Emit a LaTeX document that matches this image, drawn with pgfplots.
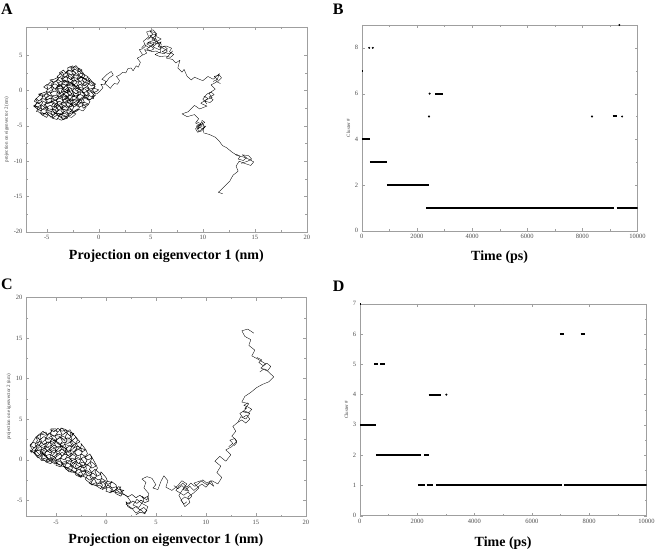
\documentclass[border=0pt]{standalone}
\usepackage{fontspec}
\setmainfont{Liberation Serif}
\usepackage{pgfplots}
\pgfplotsset{compat=1.18}

\pgfplotsset{
  panel/.style={
    scale only axis,
    axis line style={gray!75},
    tick style={gray!75},
    tick align=inside,
    major tick length=3pt, minor tick length=1.6pt,
    minor tick num=1,
    tick label style={font=\fontsize{6.5}{7}\selectfont, text=black!70},
    /pgf/number format/assume math mode=true,
    /pgf/number format/1000 sep={},
    scaled ticks=false,
    xlabel style={font=\fontsize{14}{16}\selectfont\bfseries, yshift=-3pt},
    ylabel style={font=\fontsize{5}{6}\selectfont, text=black!75, yshift=-2pt},
  },
  traj/.style={black, line width=0.35pt, line join=round},
  dense/.style={black, line width=0.45pt, line join=round},
  clus/.style={black, line width=2pt},
  dot/.style={black, only marks, mark=*, mark size=0.8pt},
}

\begin{document}
\begin{tikzpicture}
\path (0pt,0pt) rectangle (658pt,-552pt);

% panel labels
\node[anchor=north west, inner sep=0pt, font=\fontsize{16}{16}\selectfont\bfseries] at (1pt,-4pt) {A};
\node[anchor=north west, inner sep=0pt, font=\fontsize{16}{16}\selectfont\bfseries] at (333pt,-4pt) {B};
\node[anchor=north west, inner sep=0pt, font=\fontsize{16}{16}\selectfont\bfseries] at (1pt,-279pt) {C};
\node[anchor=north west, inner sep=0pt, font=\fontsize{16}{16}\selectfont\bfseries] at (333pt,-281pt) {D};

% ---------- A ----------
\begin{axis}[panel, at={(26pt,-232pt)}, anchor=south west,
  width=281pt, height=205pt,
  xmin=-7, xmax=20, ymin=-20, ymax=9,
  xtick={-5,0,...,20}, ytick={-20,-15,...,5},
  xlabel={Projection on eigenvector 1 (nm)},
  ylabel={projection on eigenvector 2 (nm)},
]
% dense part of the walk, around (-3,0): sweeps across
\addplot[dense] coordinates {
(-2.8,3.4) (-2.5,3.15) (-2.2,3.55) (-2.0,3.2)
(-1.6,2.9) (-1.9,2.65) (-2.3,3.05) (-2.6,2.7) (-2.9,2.85) (-3.2,2.55) (-3.4,2.9)
(-3.8,2.5) (-3.5,2.15) (-3.1,2.55) (-2.8,2.2) (-2.4,2.35) (-2.1,2.05) (-1.7,2.5) (-1.3,2.2)
(-1.0,1.9) (-1.3,1.65) (-1.7,2.05) (-2.0,1.7) (-2.4,1.85) (-2.7,1.55) (-3.1,2.0) (-3.5,1.7) (-3.9,1.9) (-4.3,1.6)
(-4.7,1.5) (-4.3,1.15) (-3.9,1.55) (-3.6,1.2) (-3.2,1.35) (-2.8,1.05) (-2.4,1.5) (-2.0,1.2) (-1.6,1.4) (-1.2,1.05) (-0.9,1.45) (-0.6,1.2)
(-0.3,0.9) (-0.7,0.65) (-1.0,1.05) (-1.4,0.7) (-1.8,0.85) (-2.2,0.55) (-2.6,1.0) (-3.0,0.7) (-3.4,0.9) (-3.8,0.55) (-4.2,0.95) (-4.6,0.7) (-5.0,0.85)
(-5.3,0.5) (-4.9,0.15) (-4.5,0.55) (-4.1,0.2) (-3.7,0.35) (-3.3,0.05) (-2.9,0.5) (-2.5,0.2) (-2.1,0.4) (-1.7,0.05) (-1.3,0.45) (-0.9,0.2) (-0.5,0.35) (0.0,0.1)
(-0.2,-0.1) (-0.6,-0.35) (-1.0,0.05) (-1.4,-0.3) (-1.8,-0.15) (-2.2,-0.45) (-2.6,0.0) (-3.0,-0.3) (-3.4,-0.1) (-3.8,-0.45) (-4.2,-0.05) (-4.6,-0.3) (-5.0,-0.15) (-5.5,-0.4)
(-5.8,-0.5) (-5.4,-0.85) (-5.0,-0.45) (-4.6,-0.8) (-4.2,-0.65) (-3.8,-0.95) (-3.4,-0.5) (-3.0,-0.8) (-2.6,-0.6) (-2.2,-0.95) (-1.8,-0.55) (-1.4,-0.8) (-1.0,-0.65) (-0.6,-0.95) (-0.3,-0.6)
(-0.6,-1.1) (-1.0,-1.35) (-1.4,-0.95) (-1.8,-1.3) (-2.2,-1.15) (-2.6,-1.45) (-3.0,-1.0) (-3.4,-1.3) (-3.8,-1.1) (-4.2,-1.45) (-4.6,-1.05) (-5.0,-1.3) (-5.4,-1.15) (-5.8,-1.45) (-6.0,-1.1)
(-6.2,-1.5) (-5.8,-1.85) (-5.4,-1.45) (-5.0,-1.8) (-4.6,-1.65) (-4.2,-1.95) (-3.8,-1.5) (-3.4,-1.8) (-3.0,-1.6) (-2.6,-1.95) (-2.2,-1.55) (-1.8,-1.8) (-1.4,-1.65) (-1.0,-1.9)
(-1.5,-2.1) (-1.9,-2.35) (-2.3,-1.95) (-2.7,-2.3) (-3.1,-2.15) (-3.5,-2.45) (-3.9,-2.0) (-4.3,-2.3) (-4.7,-2.1) (-5.1,-2.45) (-5.5,-2.05) (-5.9,-2.3) (-6.3,-2.15)
(-6.0,-2.5) (-5.6,-2.85) (-5.2,-2.45) (-4.8,-2.8) (-4.4,-2.65) (-4.0,-2.95) (-3.6,-2.5) (-3.2,-2.8) (-2.8,-2.6) (-2.4,-2.95) (-2.0,-2.6)
(-2.5,-3.1) (-2.9,-3.35) (-3.3,-2.95) (-3.7,-3.3) (-4.1,-3.15) (-4.5,-3.45) (-4.9,-3.0) (-5.3,-3.3) (-5.5,-3.1)
(-4.8,-3.5) (-4.4,-3.85) (-4.0,-3.45) (-3.6,-3.8) (-3.2,-3.65) (-3.0,-3.9)
(-3.2,-4.0) (-3.6,-4.2) (-4.0,-3.9)
};
% dense part, up and down
\addplot[dense] coordinates {
(-6.0,-3.0) (-5.85,-2.55) (-6.1,-2.1) (-5.9,-1.65) (-6.05,-1.2)
(-5.5,-0.4) (-5.35,-0.85) (-5.6,-1.3) (-5.4,-1.75) (-5.65,-2.2) (-5.45,-2.65) (-5.6,-3.1) (-5.4,-3.5)
(-5.0,-3.8) (-4.85,-3.35) (-5.1,-2.9) (-4.9,-2.45) (-5.15,-2.0) (-4.95,-1.55) (-5.1,-1.1) (-4.85,-0.65) (-5.05,-0.2) (-4.9,0.25) (-5.0,0.7)
(-4.5,1.4) (-4.35,0.95) (-4.6,0.5) (-4.4,0.05) (-4.65,-0.4) (-4.45,-0.85) (-4.6,-1.3) (-4.35,-1.75) (-4.55,-2.2) (-4.4,-2.65) (-4.6,-3.1) (-4.45,-3.55) (-4.5,-3.9)
(-4.0,-4.1) (-3.85,-3.65) (-4.1,-3.2) (-3.9,-2.75) (-4.15,-2.3) (-3.95,-1.85) (-4.1,-1.4) (-3.85,-0.95) (-4.05,-0.5) (-3.9,-0.05) (-4.1,0.4) (-3.85,0.85) (-4.05,1.3) (-3.9,1.75) (-4.0,2.0)
(-3.5,2.6) (-3.35,2.15) (-3.6,1.7) (-3.4,1.25) (-3.65,0.8) (-3.45,0.35) (-3.6,-0.1) (-3.35,-0.55) (-3.55,-1.0) (-3.4,-1.45) (-3.6,-1.9) (-3.45,-2.35) (-3.65,-2.8) (-3.4,-3.25) (-3.6,-3.7) (-3.5,-4.1)
(-3.0,-3.8) (-2.85,-3.35) (-3.1,-2.9) (-2.9,-2.45) (-3.15,-2.0) (-2.95,-1.55) (-3.1,-1.1) (-2.85,-0.65) (-3.05,-0.2) (-2.9,0.25) (-3.1,0.7) (-2.85,1.15) (-3.05,1.6) (-2.9,2.05) (-3.1,2.5) (-2.95,2.95) (-3.0,3.2)
(-2.5,3.5) (-2.35,3.05) (-2.6,2.6) (-2.4,2.15) (-2.65,1.7) (-2.45,1.25) (-2.6,0.8) (-2.35,0.35) (-2.55,-0.1) (-2.4,-0.55) (-2.6,-1.0) (-2.45,-1.45) (-2.65,-1.9) (-2.4,-2.35) (-2.6,-2.8) (-2.5,-3.2)
(-2.0,-2.8) (-1.85,-2.35) (-2.1,-1.9) (-1.9,-1.45) (-2.15,-1.0) (-1.95,-0.55) (-2.1,-0.1) (-1.85,0.35) (-2.05,0.8) (-1.9,1.25) (-2.1,1.7) (-1.85,2.15) (-2.05,2.6) (-1.95,3.0) (-2.0,3.2)
(-1.5,2.5) (-1.35,2.05) (-1.6,1.6) (-1.4,1.15) (-1.65,0.7) (-1.45,0.25) (-1.6,-0.2) (-1.35,-0.65) (-1.55,-1.1) (-1.4,-1.55) (-1.6,-2.0) (-1.5,-2.5)
(-1.0,-2.0) (-0.85,-1.55) (-1.1,-1.1) (-0.9,-0.65) (-1.15,-0.2) (-0.95,0.25) (-1.1,0.7) (-0.85,1.15) (-1.0,1.6) (-0.95,1.8)
(-0.5,1.0) (-0.35,0.55) (-0.6,0.1) (-0.4,-0.35) (-0.6,-0.8) (-0.5,-1.2)
};
% smaller clumps along the way
\addplot[traj] coordinates {
(4.2,5.0) (4.6,5.3) (4.4,5.8) (4.9,5.6) (5.3,5.9) (5.0,6.3) (4.6,6.6) (5.1,6.9) (5.6,6.6) (6.0,6.9)
(5.7,6.2) (6.2,6.0) (6.6,5.6) (6.3,5.2) (5.8,5.4) (5.4,5.1) (5.9,4.8) (6.4,4.9) (6.9,4.7) (7.2,5.1)
(6.8,5.5) (7.0,6.0) (6.5,6.3) (5.9,6.2) (5.5,7.3) (5.0,7.6) (4.7,7.2) (5.2,8.0) (4.9,8.4) (5.4,8.2)
(5.6,7.6) (6.0,7.3) (5.4,6.8) (4.8,6.1) (4.4,6.5) (4.1,6.0)
};
\addplot[traj] coordinates {
(10.1,-0.8) (10.5,-1.1) (10.2,-1.5) (10.7,-1.7) (11.0,-1.3) (10.6,-0.9) (11.1,-0.6) (10.8,-0.2) (10.4,-0.5) (10.0,-1.2) (10.4,-1.9)
};
\addplot[traj] coordinates {
(9.4,-4.4) (9.8,-4.7) (9.5,-5.1) (10.0,-5.4) (10.3,-5.0) (9.9,-5.7) (9.5,-5.9) (9.3,-5.4) (9.7,-4.9) (10.2,-4.5) (9.9,-4.2)
};
\addplot[traj] coordinates {
(13.2,-9.0) (13.6,-9.3) (13.4,-9.7) (13.9,-9.9) (14.2,-9.5) (13.8,-9.1) (14.4,-9.2) (14.7,-9.7) (14.3,-10.0) (13.7,-10.3)
};
\addplot[traj] coordinates {
(11.0,1.3) (11.4,1.6) (11.1,2.0) (11.6,2.2) (11.8,1.8) (11.4,1.2) (11.7,1.0)
};
% the walk itself
\addplot[traj] coordinates {
(-3.0,0.2) (-2.6,-0.5) (-3.3,-1.1) (-2.9,-1.8) (-2.3,-2.3) (-1.8,-1.2) (-1.3,-0.6) (-1.8,0.2)
(-2.4,0.8) (-3.0,1.4) (-3.6,0.9) (-4.0,0.4) (-3.6,-0.6) (-4.1,-1.3) (-4.7,-1.6) (-5.3,-2.0)
(-4.8,-2.6) (-4.2,-2.7) (-3.6,-1.9) (-3.0,-2.5) (-2.5,-2.0) (-2.9,-1.3) (-2.3,-0.7) (-2.8,-0.2)
(-3.5,0.4) (-3.9,1.1) (-3.3,1.5) (-2.7,1.1) (-2.2,0.4) (-1.5,-0.2) (-1.1,-0.9) (-1.9,-1.5)
(-2.6,-1.2) (-3.4,-1.7) (-4.0,-2.0) (-3.5,-2.6) (-2.8,-2.9) (-2.2,-3.3) (-2.6,-3.8) (-3.2,-3.6)
(-4.5,-3.0) (-5.5,-2.6)
(-6.2,-2.1) (-5.8,-1.6) (-5.5,-2.3) (-5.9,-2.9) (-5.4,-3.5) (-5.0,-3.1) (-4.6,-3.8) (-4.2,-3.3)
(-4.5,-2.6) (-4.0,-2.2) (-4.4,-1.5) (-4.9,-1.9) (-5.2,-1.2) (-4.7,-0.7) (-4.1,-1.0) (-3.7,-0.4)
(-4.2,0.2) (-3.8,0.8) (-3.3,0.4) (-3.0,1.1) (-3.5,1.6) (-3.0,2.2) (-2.5,1.7) (-2.2,2.5)
(-2.7,3.1) (-2.3,3.4) (-1.9,2.8) (-1.5,2.2) (-2.0,1.6) (-1.6,1.0) (-2.2,0.6) (-2.6,1.2)
(-3.1,0.6) (-2.8,0.0) (-3.4,-0.5) (-2.9,-1.0) (-3.5,-1.4) (-3.1,-2.0) (-3.7,-2.4) (-3.3,-3.0)
(-3.8,-3.6) (-3.4,-4.1) (-3.0,-3.5) (-2.6,-2.8) (-2.9,-2.2) (-2.4,-1.6) (-2.0,-2.1) (-1.6,-1.5)
(-2.1,-0.9) (-1.7,-0.3) (-2.3,0.1) (-1.9,0.5) (-1.3,0.2) (-0.9,-0.4) (-1.4,-0.9) (-0.8,-1.3)
(-0.5,-0.6) (-1.0,0.4) (-1.5,0.9) (-1.1,1.5) (-1.6,1.9) (-2.4,1.3) (-2.9,1.8) (-3.6,2.1)
(-4.1,1.4) (-4.6,0.9) (-4.3,0.3) (-4.8,-0.2) (-5.3,-0.6) (-5.0,-1.3) (-4.5,-1.0) (-3.9,-1.6)
(-4.3,-2.1) (-3.8,-2.8) (-4.3,-3.1) (-3.9,-3.5) (-3.3,-3.2) (-2.8,-3.6) (-2.4,-3.1) (-2.0,-2.6)
(-1.5,-2.9) (-1.2,-2.3) (-1.6,-1.8) (-2.2,-1.3) (-2.7,-1.5) (-3.2,-0.8) (-3.7,-1.1) (-3.3,-0.2)
(-2.7,0.3) (-2.4,-0.3) (-1.9,-0.6) (-2.5,-0.9) (-3.0,-0.4) (-3.5,0.1) (-3.1,0.9) (-2.6,0.6)
(-2.1,1.1) (-2.5,2.0) (-3.1,2.7) (-2.6,2.9) (-2.0,2.2) (-1.4,1.6) (-0.8,1.2) (-0.4,0.6)
(-0.7,0.0) (-0.2,-0.5) (0.1,-0.1) (0.4,0.4) (0.2,0.9) (0.5,0.8) (0.7,1.3) (0.3,1.6) (0.6,2.0) (0.8,2.3) (1.2,2.7) (1.4,2.2) (1.0,1.8)
(0.6,1.0) (0.9,0.6) (1.1,0.3) (1.3,0.7) (1.5,1.0) (1.8,0.9) (2.0,1.4) (1.7,2.0) (2.0,2.2) (2.3,2.6) (2.6,2.5) (2.8,3.1) (3.1,3.2) (3.3,2.8)
(3.6,3.5) (3.8,3.3) (4.0,4.0) (3.7,4.6) (4.0,4.8) (4.2,5.1) (3.9,5.8) (4.2,5.9) (4.5,6.3) (4.3,7.0) (4.8,7.6)
(4.6,8.3) (5.2,8.6) (5.6,8.0) (4.9,7.8) (5.4,7.2) (4.7,6.8) (5.3,6.5) (4.6,5.9)
(5.1,5.5) (5.5,5.6) (5.9,5.3) (6.0,6.6) (5.4,7.0) (5.5,7.9) (5.1,7.3) (5.7,6.8) (5.2,6.2) (5.8,5.8)
(6.3,6.3) (6.6,5.9) (6.1,5.5) (6.8,5.2) (7.1,5.6) (6.5,4.6) (7.1,4.4) (7.4,3.9) (7.8,4.3) (7.6,3.2)
(8.0,2.6) (8.2,3.0) (8.5,2.0) (8.9,1.5) (9.2,1.9) (9.5,1.7) (10.0,1.4) (10.5,2.0) (11.0,1.6) (11.6,2.4)
(11.3,1.2) (10.8,0.8) (11.2,0.2) (10.6,-0.4) (10.9,-1.0) (10.3,-1.3) (9.8,-1.8) (10.4,-2.2)
(9.7,-2.6) (9.2,-2.1) (8.6,-3.0) (8.0,-3.3) (8.5,-3.7) (9.2,-3.4) (9.6,-4.0) (9.3,-4.6)
(9.9,-5.0) (9.5,-5.5) (9.9,-4.4) (10.2,-5.2) (9.6,-5.8) (9.4,-5.0) (10.0,-4.7) (10.1,-6.0) (10.6,-6.2) (11.2,-6.6)
(11.6,-7.2) (11.9,-7.8) (12.3,-8.1) (12.8,-8.7) (13.3,-9.2) (13.9,-9.4) (14.4,-9.7) (14.9,-10.1)
(14.6,-10.6) (14.0,-10.3) (13.5,-10.0) (13.2,-10.7) (13.4,-11.4) (12.9,-12.0) (12.6,-12.8) (12.2,-13.4)
(11.8,-14.0) (11.5,-14.4) (11.9,-14.6)
};
\end{axis}

% ---------- B ----------
\begin{axis}[panel, at={(362pt,-231pt)}, anchor=south west,
  width=276pt, height=206pt,
  xmin=0, xmax=10000, ymin=0, ymax=9,
  xtick={0,2000,...,10000}, ytick={0,2,...,8},
  xlabel={Time (ps)}, ylabel={Cluster \#},
  xlabel style={yshift=-2pt},
  unbounded coords=jump,
]
\addplot[clus] coordinates {
(0,4) (315,4) (nan,nan)
(290,3) (930,3) (nan,nan)
(915,2) (2440,2) (nan,nan)
(2340,1) (9160,1) (nan,nan)
(9240,1) (10000,1) (nan,nan)
(0,7) (50,7) (nan,nan)
(2650,6) (2940,6) (nan,nan)
(9100,5) (9250,5)
};
\addplot[dot] coordinates {
(270,8) (400,8) (2460,6) (2440,5) (8350,5) (9440,5) (9340,9)
};
\end{axis}

% ---------- C ----------
\begin{axis}[panel, at={(26pt,-516.7pt)}, anchor=south west,
  width=280pt, height=219pt,
  xmin=-8, xmax=20, ymin=-7, ymax=20,
  xtick={-5,0,...,20}, ytick={-5,0,...,20},
  xlabel={Projection on eigenvector 1 (nm)},
  ylabel={projection on eigenvector 2 (nm)},
]
% dense parts of the walk: sweeps across
\addplot[dense] coordinates {
(-5.6,3.7) (-5.2,3.45) (-4.8,3.85) (-4.4,3.5) (-4.0,3.65) (-3.6,3.4)
(-3.2,3.2) (-3.6,2.95) (-4.0,3.35) (-4.4,3.0) (-4.8,3.15) (-5.2,2.85) (-5.6,3.3) (-6.0,3.0) (-6.5,3.15)
(-7.0,2.8) (-6.6,2.45) (-6.2,2.85) (-5.8,2.5) (-5.4,2.65) (-5.0,2.35) (-4.6,2.8) (-4.2,2.5) (-3.8,2.7) (-3.4,2.35) (-3.0,2.75)
(-2.6,2.2) (-3.0,1.95) (-3.4,2.35) (-3.8,2.0) (-4.2,2.15) (-4.6,1.85) (-5.0,2.3) (-5.4,2.0) (-5.8,2.2) (-6.2,1.85) (-6.6,2.25) (-7.0,2.0) (-7.3,2.15)
(-7.6,1.8) (-7.2,1.45) (-6.8,1.85) (-6.4,1.5) (-6.0,1.65) (-5.6,1.35) (-5.2,1.8) (-4.8,1.5) (-4.4,1.7) (-4.0,1.35) (-3.6,1.75) (-3.2,1.5) (-2.8,1.65) (-2.4,1.35)
(-2.0,1.2) (-2.4,0.95) (-2.8,1.35) (-3.2,1.0) (-3.6,1.15) (-4.0,0.85) (-4.4,1.3) (-4.8,1.0) (-5.2,1.2) (-5.6,0.85) (-6.0,1.25) (-6.4,1.0) (-6.8,1.15) (-7.2,0.85) (-7.6,1.2)
(-7.2,0.8) (-6.8,0.45) (-6.4,0.85) (-6.0,0.5) (-5.6,0.65) (-5.2,0.35) (-4.8,0.8) (-4.4,0.5) (-4.0,0.7) (-3.6,0.35) (-3.2,0.75) (-2.8,0.5) (-2.4,0.65) (-2.0,0.35) (-1.6,0.7)
(-1.4,0.2) (-1.8,-0.05) (-2.2,0.35) (-2.6,0.0) (-3.0,0.15) (-3.4,-0.15) (-3.8,0.3) (-4.2,0.0) (-4.6,0.2) (-5.0,-0.15) (-5.4,0.25) (-5.8,0.0) (-6.2,0.15) (-6.5,-0.1)
(-5.5,-0.2) (-5.1,-0.55) (-4.7,-0.15) (-4.3,-0.5) (-3.9,-0.35) (-3.5,-0.65) (-3.1,-0.2) (-2.7,-0.5) (-2.3,-0.3) (-1.9,-0.65) (-1.5,-0.25) (-1.2,-0.5)
(-1.0,-0.8) (-1.4,-1.05) (-1.8,-0.65) (-2.2,-1.0) (-2.6,-0.85) (-3.0,-1.15) (-3.4,-0.7) (-3.8,-1.0) (-4.3,-0.8)
(-3.5,-1.2) (-3.1,-1.55) (-2.7,-1.15) (-2.3,-1.5) (-1.9,-1.35) (-1.5,-1.65) (-1.1,-1.2) (-0.8,-1.5)
(-0.5,-1.8) (-0.9,-2.05) (-1.3,-1.65) (-1.7,-2.0) (-2.1,-1.85) (-2.5,-2.15) (-2.8,-1.8)
(-2.0,-2.2) (-1.6,-2.55) (-1.2,-2.15) (-0.8,-2.5) (-0.4,-2.35) (0.0,-2.65)
(0.6,-2.8) (0.2,-3.05) (-0.2,-2.65) (-0.6,-3.0) (-1.0,-2.85) (-1.5,-3.1)
(-0.6,-3.2) (-0.2,-3.55) (0.2,-3.15) (0.6,-3.5) (1.0,-3.35) (1.2,-3.65)
(1.8,-3.8) (1.4,-4.05) (1.0,-3.7) (0.6,-4.0) (0.4,-3.85)
(1.8,-4.3) (2.2,-4.6) (2.6,-4.3) (3.0,-4.7) (3.4,-4.4) (3.8,-4.8) (4.2,-4.5)
(4.3,-5.1) (3.9,-5.3) (3.5,-5.0) (3.1,-5.4) (2.7,-5.1) (2.3,-5.5) (2.0,-5.2)
(2.2,-5.8) (2.6,-6.1) (3.0,-5.8) (3.4,-6.2) (3.8,-5.9) (4.1,-6.3)
(3.8,-6.6) (3.4,-6.5) (3.0,-6.8)
};
% dense parts, up and down
\addplot[dense] coordinates {
(-7.5,0.8) (-7.35,1.25) (-7.6,1.7) (-7.45,1.9)
(-7.0,2.8) (-6.85,2.35) (-7.1,1.9) (-6.9,1.45) (-7.15,1.0) (-7.0,0.6)
(-6.5,0.0) (-6.35,0.45) (-6.6,0.9) (-6.4,1.35) (-6.65,1.8) (-6.45,2.25) (-6.6,2.7) (-6.5,3.2)
(-6.0,3.4) (-5.85,2.95) (-6.1,2.5) (-5.9,2.05) (-6.15,1.6) (-5.95,1.15) (-6.1,0.7) (-5.85,0.25) (-6.0,-0.3)
(-5.5,-0.5) (-5.35,-0.05) (-5.6,0.4) (-5.4,0.85) (-5.65,1.3) (-5.45,1.75) (-5.6,2.2) (-5.35,2.65) (-5.55,3.1) (-5.45,3.55) (-5.5,3.8)
(-5.0,3.8) (-4.85,3.35) (-5.1,2.9) (-4.9,2.45) (-5.15,2.0) (-4.95,1.55) (-5.1,1.1) (-4.85,0.65) (-5.05,0.2) (-4.9,-0.25) (-5.0,-0.7)
(-4.5,-0.9) (-4.35,-0.45) (-4.6,0.0) (-4.4,0.45) (-4.65,0.9) (-4.45,1.35) (-4.6,1.8) (-4.35,2.25) (-4.55,2.7) (-4.4,3.15) (-4.6,3.6) (-4.5,3.9)
(-4.0,3.7) (-3.85,3.25) (-4.1,2.8) (-3.9,2.35) (-4.15,1.9) (-3.95,1.45) (-4.1,1.0) (-3.85,0.55) (-4.05,0.1) (-3.9,-0.35) (-4.1,-0.8) (-4.0,-1.2)
(-3.5,-1.5) (-3.35,-1.05) (-3.6,-0.6) (-3.4,-0.15) (-3.65,0.3) (-3.45,0.75) (-3.6,1.2) (-3.35,1.65) (-3.55,2.1) (-3.4,2.55) (-3.6,3.0) (-3.5,3.4)
(-3.0,2.8) (-2.85,2.35) (-3.1,1.9) (-2.9,1.45) (-3.15,1.0) (-2.95,0.55) (-3.1,0.1) (-2.85,-0.35) (-3.05,-0.8) (-2.9,-1.25) (-3.1,-1.7) (-3.0,-1.9)
(-2.5,-2.2) (-2.35,-1.75) (-2.6,-1.3) (-2.4,-0.85) (-2.65,-0.4) (-2.45,0.05) (-2.6,0.5) (-2.35,0.95) (-2.55,1.4) (-2.45,1.85) (-2.5,2.0)
(-2.0,1.2) (-1.85,0.75) (-2.1,0.3) (-1.9,-0.15) (-2.15,-0.6) (-1.95,-1.05) (-2.1,-1.5) (-1.85,-1.95) (-2.05,-2.4) (-2.0,-2.5)
(-1.5,-3.0) (-1.35,-2.55) (-1.6,-2.1) (-1.4,-1.65) (-1.65,-1.2) (-1.45,-0.75) (-1.6,-0.3) (-1.4,0.15) (-1.5,0.5)
(-1.0,-0.6) (-0.85,-1.05) (-1.1,-1.5) (-0.9,-1.95) (-1.15,-2.4) (-0.95,-2.85) (-1.0,-3.2)
(-0.5,-3.6) (-0.35,-3.15) (-0.6,-2.7) (-0.4,-2.25) (-0.55,-1.8) (-0.5,-1.5)
(0.0,-2.2) (0.15,-2.65) (-0.1,-3.1) (0.1,-3.55) (0.0,-3.9)
(0.5,-4.1) (0.65,-3.65) (0.4,-3.2) (0.55,-2.7)
(1.0,-3.1) (1.15,-3.55) (0.9,-4.0) (1.0,-4.2)
(1.5,-4.5) (1.65,-4.05) (1.4,-3.6) (1.5,-3.3)
};
% smaller clumps along the way
\addplot[traj] coordinates {
(6.8,-3.2) (7.2,-3.6) (7.6,-3.2) (8.0,-3.7) (8.4,-3.3) (8.8,-3.8) (9.2,-3.4) (9.6,-3.0) (10.0,-3.4) (10.4,-2.9) (10.8,-3.3)
(10.5,-2.6) (10.1,-2.9) (9.7,-2.5) (9.3,-2.9) (8.9,-3.3) (8.5,-2.9) (8.1,-3.4) (7.7,-2.9) (7.3,-3.3) (7.0,-3.8)
(7.4,-4.1) (7.8,-4.4) (8.2,-4.0) (8.6,-4.5) (8.3,-4.9) (7.9,-4.6) (7.5,-5.0) (7.8,-5.5) (8.1,-5.2)
};
\addplot[traj] coordinates {
(13.2,4.6) (13.6,4.9) (14.0,4.5) (14.4,5.0) (14.1,5.5) (13.7,5.2) (13.4,5.7) (13.8,6.0) (14.3,5.8) (14.6,6.2) (14.2,6.5) (13.8,6.7) (14.2,7.0)
};
\addplot[traj] coordinates {
(15.4,10.8) (15.8,11.2) (16.2,11.0) (16.5,11.5) (16.1,11.9) (15.7,11.6) (15.3,12.0) (15.6,12.3) (15.1,12.6)
};
\addplot[traj] coordinates {
(12.3,1.6) (12.7,2.0) (12.4,2.4) (12.9,2.6) (13.1,2.1) (12.8,1.7)
};
% the walk itself
\addplot[traj] coordinates {
(-5.5,1.8) (-4.9,1.1) (-5.4,0.5) (-4.8,-0.1) (-4.3,0.5) (-3.9,1.3) (-4.5,1.7) (-5.1,1.5)
(-5.8,1.0) (-6.4,0.9) (-5.9,0.3) (-5.2,-0.3) (-4.6,-0.7) (-3.9,-0.5) (-3.4,0.2) (-2.9,-0.1)
(-3.4,-0.9) (-2.9,-1.2) (-2.4,-0.6) (-2.0,-1.6) (-2.6,-2.1) (-3.1,-1.6) (-3.7,-1.5) (-4.2,-0.9)
(-4.8,-0.5) (-5.3,0.0) (-6.0,-0.3) (-6.5,0.4) (-7.1,1.2) (-6.6,1.9) (-6.0,2.5) (-5.3,3.0)
(-4.7,2.9) (-4.1,2.3) (-3.5,2.3) (-3.1,1.5) (-3.7,1.0) (-4.3,1.6) (-5.0,2.1) (-6.2,1.3)
(-7.6,1.0) (-7.0,1.6) (-6.6,2.4) (-6.9,2.9) (-6.3,3.5) (-5.8,3.0) (-5.3,3.7) (-4.8,3.4)
(-4.4,3.9) (-4.0,3.3) (-3.6,3.7) (-3.3,3.0) (-3.8,2.5) (-4.3,2.9) (-4.9,2.5) (-5.5,2.2)
(-6.1,2.0) (-6.7,1.5) (-7.2,0.8) (-6.8,0.2) (-6.2,0.7) (-5.7,1.3) (-5.2,0.8) (-4.7,1.4)
(-4.1,1.9) (-3.5,1.6) (-3.0,2.0) (-2.6,1.4) (-3.2,0.9) (-3.8,0.5) (-4.4,0.9) (-5.0,0.3)
(-5.6,-0.1) (-6.1,0.4) (-6.6,1.0) (-6.0,1.6) (-5.4,2.5) (-4.6,2.0) (-4.2,1.2) (-3.6,0.8)
(-3.0,0.4) (-2.4,0.0) (-2.0,-0.6) (-2.6,-0.9) (-3.2,-0.4) (-3.8,-0.1) (-4.5,-0.4) (-4.0,-1.0)
(-3.4,-1.4) (-2.8,-1.7) (-2.2,-1.3) (-1.6,-1.8) (-1.2,-2.4) (-1.7,-2.9) (-1.0,-3.2) (-0.5,-2.6)
(0.0,-3.1) (-0.4,-3.7) (0.3,-3.4) (0.8,-3.9) (1.3,-3.3) (1.6,-4.1) (2.1,-4.5) (2.5,-5.2)
(2.0,-5.5) (2.6,-6.0) (3.0,-6.6) (3.5,-6.2) (3.9,-6.7) (4.2,-5.8) (3.6,-5.4) (3.1,-4.9)
(2.7,-5.6) (3.3,-5.9) (3.8,-5.0) (3.6,-4.5) (4.1,-5.0) (4.3,-4.2) (3.8,-3.5) (4.0,-2.8)
(3.6,-2.4) (4.1,-2.1) (4.6,-2.3) (5.0,-3.1) (4.7,-3.5) (5.2,-3.7) (5.5,-2.7) (5.8,-2.0) (6.2,-2.6) (6.0,-3.4) (6.6,-3.8) (7.2,-3.2)
(7.6,-2.6) (8.1,-3.0) (7.7,-3.7) (8.3,-3.9) (7.9,-3.3) (7.3,-4.4) (7.6,-5.1) (7.9,-5.8)
(8.4,-5.3) (8.2,-4.6) (8.8,-4.1) (9.3,-3.5) (8.8,-2.9) (9.5,-2.6) (10.1,-3.1) (10.6,-2.6)
(11.2,-3.0) (11.6,-2.2) (11.1,-1.6) (11.5,-0.8) (10.9,-0.2) (11.4,0.4) (12.0,-0.2) (12.5,0.6)
(12.0,1.2) (12.6,1.6) (13.1,2.3) (12.6,2.9) (13.0,3.5) (12.7,4.1) (13.2,4.6) (13.5,5.3)
(14.0,5.0) (14.4,5.7) (13.7,5.9) (14.1,6.4) (13.9,6.3) (14.3,6.9) (13.6,7.1) (13.9,7.8)
(14.5,8.3) (15.1,8.9) (15.7,9.3) (16.3,9.6) (16.8,10.2) (16.2,10.9) (15.5,11.3) (16.0,11.8)
(15.2,12.4) (14.6,12.8) (14.9,13.5) (14.3,14.1) (14.5,14.8) (13.9,15.2) (13.6,15.9) (14.2,16.1)
(14.8,15.6)
};
\end{axis}

% ---------- D ----------
\begin{axis}[panel, at={(360pt,-516pt)}, anchor=south west,
  width=287pt, height=212pt,
  xmin=0, xmax=10000, ymin=0, ymax=7,
  xtick={0,2000,...,10000}, ytick={0,1,...,7},
  xlabel={Time (ps)}, ylabel={Cluster \#},
  xlabel style={yshift=-3pt},
  unbounded coords=jump,
]
\addplot[clus] coordinates {
(0,3) (560,3) (nan,nan)
(500,5) (620,5) (nan,nan)
(720,5) (870,5) (nan,nan)
(560,2) (2150,2) (nan,nan)
(2240,2) (2420,2) (nan,nan)
(2400,4) (2850,4) (nan,nan)
(2030,1) (2270,1) (nan,nan)
(2330,1) (2560,1) (nan,nan)
(2670,1) (7060,1) (nan,nan)
(7120,1) (10000,1) (nan,nan)
(6980,6) (7130,6) (nan,nan)
(7700,6) (7850,6) (nan,nan)
(0,7) (40,7)
};
\addplot[dot] coordinates {(3020,4)};
\end{axis}
\end{tikzpicture}
\end{document}
